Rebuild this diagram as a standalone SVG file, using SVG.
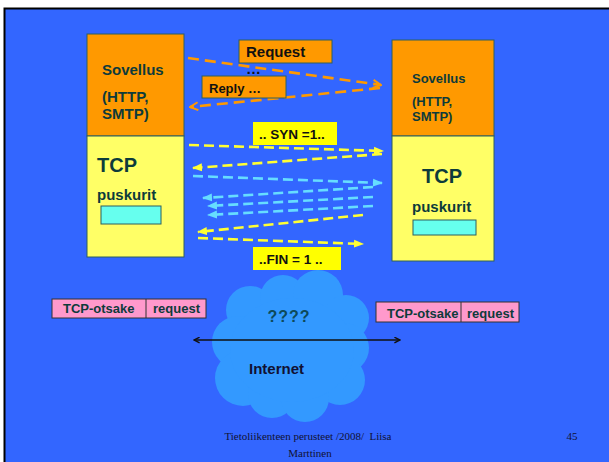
<svg xmlns="http://www.w3.org/2000/svg" width="609" height="462" viewBox="0 0 609 462">
<defs>
<style>
.t{font-family:"Liberation Sans",Arial,sans-serif;font-weight:bold;fill:#0d3b3b}
.k{font-family:"Liberation Sans",Arial,sans-serif;font-weight:bold;fill:#111111}
.f{font-family:"Liberation Serif","Times New Roman",serif;font-size:11px;fill:#111133}
.or{fill:#FF9900;stroke:#2f5f5f;stroke-width:1}
.ye{fill:#FFFF66;stroke:#2f5f5f;stroke-width:1}
.cy{fill:#66FFEE;stroke:#2f5f5f;stroke-width:1}
.pk{fill:#FF99CC;stroke:#333333;stroke-width:1}
.lab{fill:#FF9900;stroke:#2f5f5f;stroke-width:1}
.syn{fill:#FFFF00}
.da{fill:none;stroke-width:2.6;stroke-dasharray:10 5}
.o{stroke:#FF9900;stroke-dasharray:11 6}
.y{stroke:#FFFF33}
.c{stroke:#66DDFF}
</style>
<marker id="mo" viewBox="0 0 10 10" refX="9" refY="5" markerWidth="10" markerHeight="10" markerUnits="userSpaceOnUse" orient="auto">
<path d="M1,1 L9,5 L1,9" fill="none" stroke="#FF9900" stroke-width="2"/>
</marker>
<marker id="my" viewBox="0 0 10 10" refX="9" refY="5" markerWidth="10" markerHeight="10" markerUnits="userSpaceOnUse" orient="auto">
<path d="M0,1 L10,5 L0,9 Z" fill="#FFFF33"/>
</marker>
<marker id="mc" viewBox="0 0 10 10" refX="9" refY="5" markerWidth="10" markerHeight="10" markerUnits="userSpaceOnUse" orient="auto">
<path d="M0,1 L10,5 L0,9 Z" fill="#66DDFF"/>
</marker>
<marker id="mk" viewBox="0 0 10 10" refX="9" refY="5" markerWidth="7" markerHeight="7" markerUnits="userSpaceOnUse" orient="auto-start-reverse">
<path d="M1,1 L9,5 L1,9" fill="none" stroke="#111111" stroke-width="2"/>
</marker>
</defs>
<rect x="0" y="0" width="609" height="462" fill="#ffffff"/>
<rect x="4.5" y="8.5" width="700" height="500" fill="#3366FF" stroke="#000000" stroke-width="2"/>

<g id="cloud" fill="#3399FF">
<circle cx="250" cy="310" r="24"/>
<circle cx="283" cy="298" r="23"/>
<circle cx="318" cy="295" r="25"/>
<circle cx="346" cy="318" r="23"/>
<circle cx="238" cy="342" r="26"/>
<circle cx="344" cy="348" r="25"/>
<circle cx="243" cy="378" r="28"/>
<circle cx="340" cy="380" r="25"/>
<circle cx="272" cy="394" r="24"/>
<circle cx="305" cy="398" r="24"/>
<ellipse cx="292" cy="350" rx="62" ry="52"/>
</g>

<g id="left-stack">
<rect class="or" x="87" y="34" width="97" height="102"/>
<rect class="ye" x="87" y="136" width="97" height="121"/>
<text class="t" x="102" y="75" font-size="15">Sovellus</text>
<text class="t" x="102" y="102" font-size="15">(HTTP,</text>
<text class="t" x="102" y="119" font-size="15">SMTP)</text>
<text class="t" x="97" y="172" font-size="20">TCP</text>
<text class="t" x="97" y="200" font-size="15">puskurit</text>
<rect class="cy" x="101" y="206" width="60" height="18"/>
</g>

<g id="right-stack">
<rect class="or" x="392" y="40" width="102" height="96"/>
<rect class="ye" x="392" y="136" width="102" height="125"/>
<text class="t" x="412" y="83" font-size="13">Sovellus</text>
<text class="t" x="412" y="106" font-size="13">(HTTP,</text>
<text class="t" x="412" y="121" font-size="13">SMTP)</text>
<text class="t" x="422" y="183" font-size="20">TCP</text>
<text class="t" x="412" y="212" font-size="15">puskurit</text>
<rect class="cy" x="413" y="220" width="63" height="15"/>
</g>

<g id="connectors">
<line class="da o" x1="188" y1="58" x2="381" y2="85" marker-end="url(#mo)"/>
<line class="da o" x1="380" y1="88" x2="190" y2="107" marker-end="url(#mo)"/>
<line class="da y" x1="189" y1="145" x2="383" y2="151" marker-end="url(#my)"/>
<line class="da y" x1="382" y1="154" x2="193" y2="168" marker-end="url(#my)"/>
<line class="da c" x1="193" y1="176" x2="382" y2="183" marker-end="url(#mc)"/>
<line class="da c" x1="373" y1="187" x2="203" y2="198" marker-end="url(#mc)"/>
<line class="da c" x1="373" y1="197" x2="208" y2="206" marker-end="url(#mc)"/>
<line class="da c" x1="373" y1="206" x2="208" y2="215" marker-end="url(#mc)"/>
<line class="da y" x1="363" y1="215" x2="198" y2="232" marker-end="url(#my)"/>
<line class="da y" x1="198" y1="238" x2="363" y2="244" marker-end="url(#my)"/>
<line x1="194" y1="340" x2="400" y2="340" stroke="#111111" stroke-width="1.6" marker-start="url(#mk)" marker-end="url(#mk)"/>
</g>

<g id="request">
<rect class="lab" x="239" y="40" width="93" height="23"/>
<text class="k" x="246" y="57" font-size="15">Request</text>
<text class="k" x="246" y="74" font-size="15">…</text>
</g>
<g id="reply">
<rect class="lab" x="202" y="76" width="84" height="22"/>
<text class="k" x="209" y="93" font-size="13">Reply …</text>
</g>
<g id="syn">
<rect class="syn" x="253" y="122" width="84" height="23"/>
<text class="k" x="259" y="139" font-size="13.5">.. SYN =1..</text>
</g>
<g id="fin">
<rect class="syn" x="253" y="247" width="88" height="23"/>
<text class="k" x="259" y="264" font-size="13.5">..FIN = 1 ..</text>
</g>

<g id="left-packet">
<rect class="pk" x="52" y="299" width="154" height="19"/>
<line x1="146" y1="299" x2="146" y2="318" stroke="#333333" stroke-width="1"/>
<text class="t" x="63" y="313" font-size="13">TCP-otsake</text>
<text class="t" x="153" y="313" font-size="13">request</text>
</g>
<g id="right-packet">
<rect class="pk" x="376" y="302" width="143" height="20"/>
<line x1="461" y1="302" x2="461" y2="322" stroke="#333333" stroke-width="1"/>
<text class="t" x="387" y="318" font-size="13">TCP-otsake</text>
<text class="t" x="467" y="318" font-size="13">request</text>
</g>

<g id="internet">
<text x="289" y="322" font-size="16" text-anchor="middle" style="font-family:'Liberation Sans',Arial,sans-serif;font-weight:bold;fill:#0d4a5a;letter-spacing:1px">????</text>
<text class="k" x="249" y="374" font-size="15" style="fill:#111133">Internet</text>
</g>

<g id="footer">
<text class="f" x="308" y="440" text-anchor="middle" xml:space="preserve">Tietoliikenteen perusteet /2008/  Liisa</text>
<text class="f" x="310" y="457" text-anchor="middle">Marttinen</text>
<text class="f" x="572" y="440" text-anchor="middle">45</text>
</g>
</svg>
